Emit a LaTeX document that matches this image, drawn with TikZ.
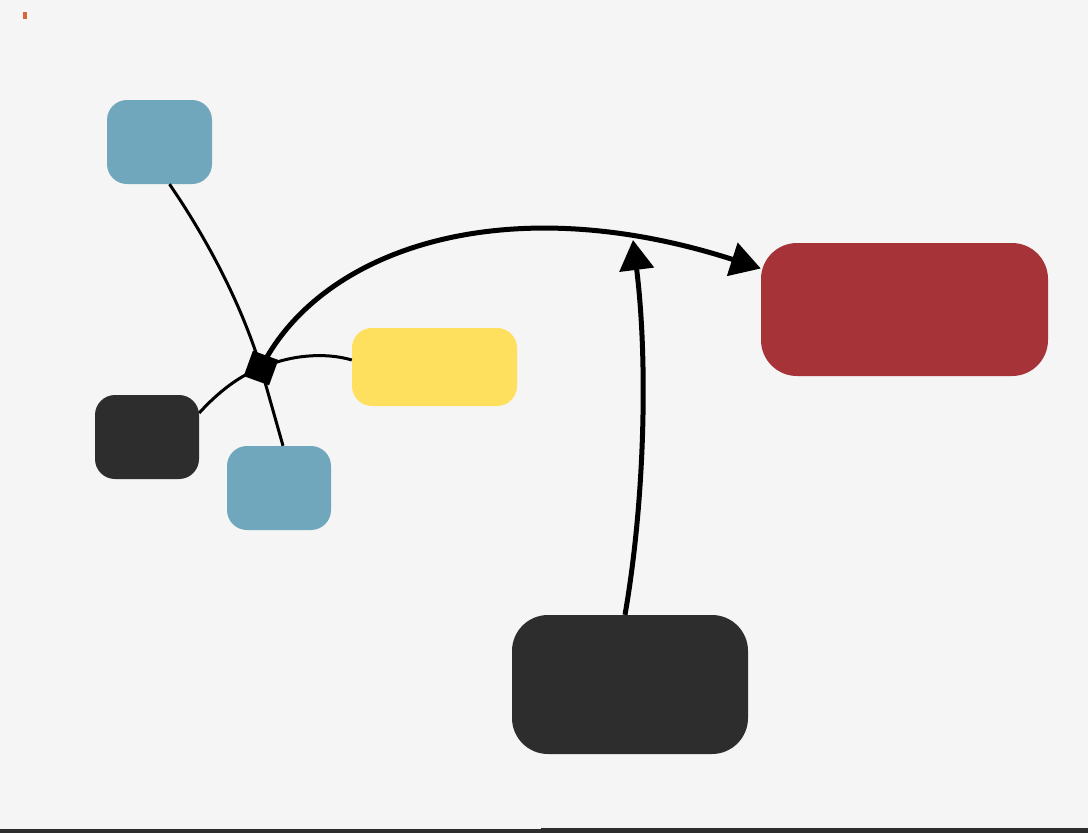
\documentclass[tikz,border=0pt]{standalone}
\usetikzlibrary{arrows.meta}

\definecolor{bgcol}{HTML}{F5F5F5}
\definecolor{bluebox}{HTML}{71A7BC}
\definecolor{darkbox}{HTML}{2D2D2D}
\definecolor{yellowbox}{HTML}{FEDF5E}
\definecolor{redbox}{HTML}{A53338}
\definecolor{marker}{HTML}{D9653B}

\tikzset{
  box/.style={rectangle, rounded corners=20pt, inner sep=0pt},
  bigbox/.style={rectangle, rounded corners=36pt, inner sep=0pt},
  thin link/.style={line width=3pt},
  thick link/.style={line width=5pt, -{Triangle[length=30pt,width=34pt]}},
}

\begin{document}
\begin{tikzpicture}[x=1pt, y=-1pt]

  % --- Background ---
  \fill[bgcol] (0,0) rectangle (1088,833);
  \useasboundingbox (0,0) rectangle (1088,833);
  \fill[marker] (23,12) rectangle (27,19);
  \fill[darkbox] (0,829) rectangle (541,833);
  \fill[darkbox] (541,828) rectangle (1088,833);

  % --- Boxes ---
  \node[box, fill=bluebox, minimum width=105pt, minimum height=84pt] (topblue) at (159.5,142) {};
  \node[box, fill=bluebox, minimum width=104pt, minimum height=84pt] (lowblue) at (279,488) {};
  \node[box, fill=darkbox, minimum width=104pt, minimum height=84pt] (leftdark) at (147,437) {};
  \node[box, fill=yellowbox, minimum width=165pt, minimum height=78pt] (yellow) at (434.5,367) {};
  \node[bigbox, fill=redbox, minimum width=287pt, minimum height=133pt] (target) at (904.5,309.5) {};
  \node[bigbox, fill=darkbox, minimum width=236pt, minimum height=139pt] (source) at (630,684.5) {};

  % --- Junction ---
  \node[rectangle, fill=black, minimum size=27pt, inner sep=0pt, rotate=-20] (junc) at (261,368) {};
  \coordinate (tip) at (633,240);

  % --- Thin links ---
  \draw[thin link] ([xshift=10pt]topblue.south) .. controls +(35,51) and +(-21,-68) .. (junc.center);
  \draw[thin link] (junc.center) -- ([xshift=4pt]lowblue.north);
  \draw[thin link] ([yshift=24pt]leftdark.east) .. controls +(18,-20) and +(-21,7) .. (junc.center);
  \draw[thin link] (junc.center) .. controls +(29,-13) and +(-27,-8) .. ([yshift=7pt]yellow.west);

  % --- Thick arrows ---
  \draw[thick link] (junc.center) .. controls +(59,-118) and +(-258,-83) .. ([yshift=41pt]target.west);
  \draw[thick link] ([xshift=-5pt]source.north) .. controls +(20,-115) and +(15,120) .. (tip);

\end{tikzpicture}
\end{document}
